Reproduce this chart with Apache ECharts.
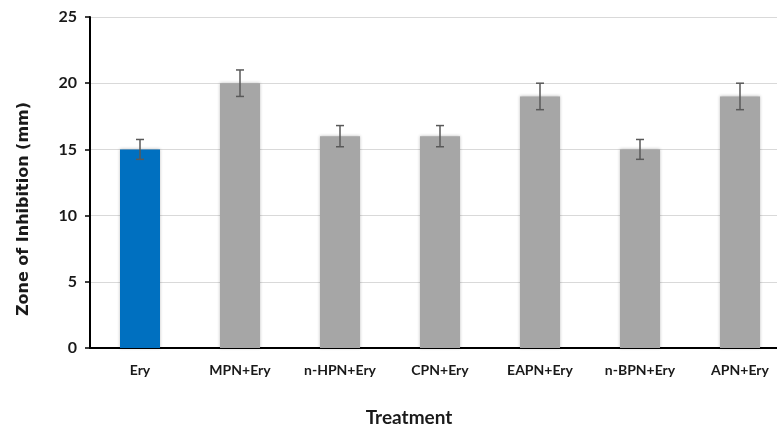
<!DOCTYPE html>
<html><head><meta charset="utf-8">
<script src="https://cdn.jsdelivr.net/npm/echarts@6/dist/echarts.min.js"></script>
<style>html,body{margin:0;padding:0;background:#fff}#c{width:777px;height:427px}</style>
</head><body><div id="c"></div>
<script>
var categories = ['Ery','MPN+Ery','n-HPN+Ery','CPN+Ery','EAPN+Ery','n-BPN+Ery','APN+Ery'];
var values = [15, 20, 16, 16, 19, 15, 19];
var errors = [0.75, 1.0, 0.8, 0.8, 1.0, 0.75, 1.0];
var yTicks = [0, 5, 10, 15, 20, 25];
var barColors = ['#0070c0','#a6a6a6','#a6a6a6','#a6a6a6','#a6a6a6','#a6a6a6','#a6a6a6'];

var font = 'Lato, "Open Sans", sans-serif';
var chart = echarts.init(document.getElementById('c'));
chart.setOption({
  animation: false,
  grid: {left: 90, top: 17, width: 700, height: 331, containLabel: false, outerBoundsMode: 'none'},
  xAxis: {
    type: 'category', data: categories,
    name: 'Treatment', nameLocation: 'middle', nameGap: 60,
    nameTextStyle: {fontFamily: font, fontWeight: 'bold', fontSize: 19, color: '#1a1a1a', padding: [0, 62, 0, 0]},
    axisLine: {lineStyle: {color: '#000', width: 2}},
    axisTick: {inside: true, length: 7, lineStyle: {color: '#000', width: 1.5}},
    axisLabel: {fontFamily: font, fontWeight: 'bold', fontSize: 14, color: '#1a1a1a', margin: 15}
  },
  yAxis: {
    type: 'value', min: 0, max: 25, interval: 5,
    name: 'Zone of Inhibition (mm)', nameLocation: 'middle', nameGap: 58,
    nameTextStyle: {fontFamily: '"DejaVu Sans", sans-serif', fontWeight: 'bold', fontSize: 16, color: '#1a1a1a', padding: [0, 53, 0, 0]},
    axisLine: {show: true, lineStyle: {color: '#000', width: 2}},
    axisTick: {show: true, length: 5, lineStyle: {color: '#000', width: 1.5}},
    axisLabel: {fontFamily: font, fontWeight: 'bold', fontSize: 16, color: '#1a1a1a', margin: 13,
      formatter: function(v){ return yTicks.indexOf(v) >= 0 ? String(v) : ''; }},
    splitLine: {lineStyle: {color: '#d9d9d9', width: 1}}
  },
  series: [{
    type: 'bar', barWidth: 40,
    data: values.map(function(v, i){ return {value: v, itemStyle: {color: barColors[i], shadowColor: 'rgba(0,0,0,0.25)', shadowBlur: 3}}; }),
    z: 2
  }, {
    type: 'custom', z: 5,
    data: values.map(function(v, i){ return [i, v, errors[i]]; }),
    renderItem: function(params, api){
      var x = api.value(0), v = api.value(1), e = api.value(2);
      var top = api.coord([x, v + e]), bot = api.coord([x, v - e]);
      var hw = 4;
      var st = {stroke: '#595959', lineWidth: 1.5};
      return {type: 'group', children: [
        {type: 'line', shape: {x1: top[0], y1: top[1], x2: bot[0], y2: bot[1]}, style: st},
        {type: 'line', shape: {x1: top[0]-hw, y1: top[1], x2: top[0]+hw, y2: top[1]}, style: st},
        {type: 'line', shape: {x1: bot[0]-hw, y1: bot[1], x2: bot[0]+hw, y2: bot[1]}, style: st}
      ]};
    }
  }]
});
</script></body></html>
